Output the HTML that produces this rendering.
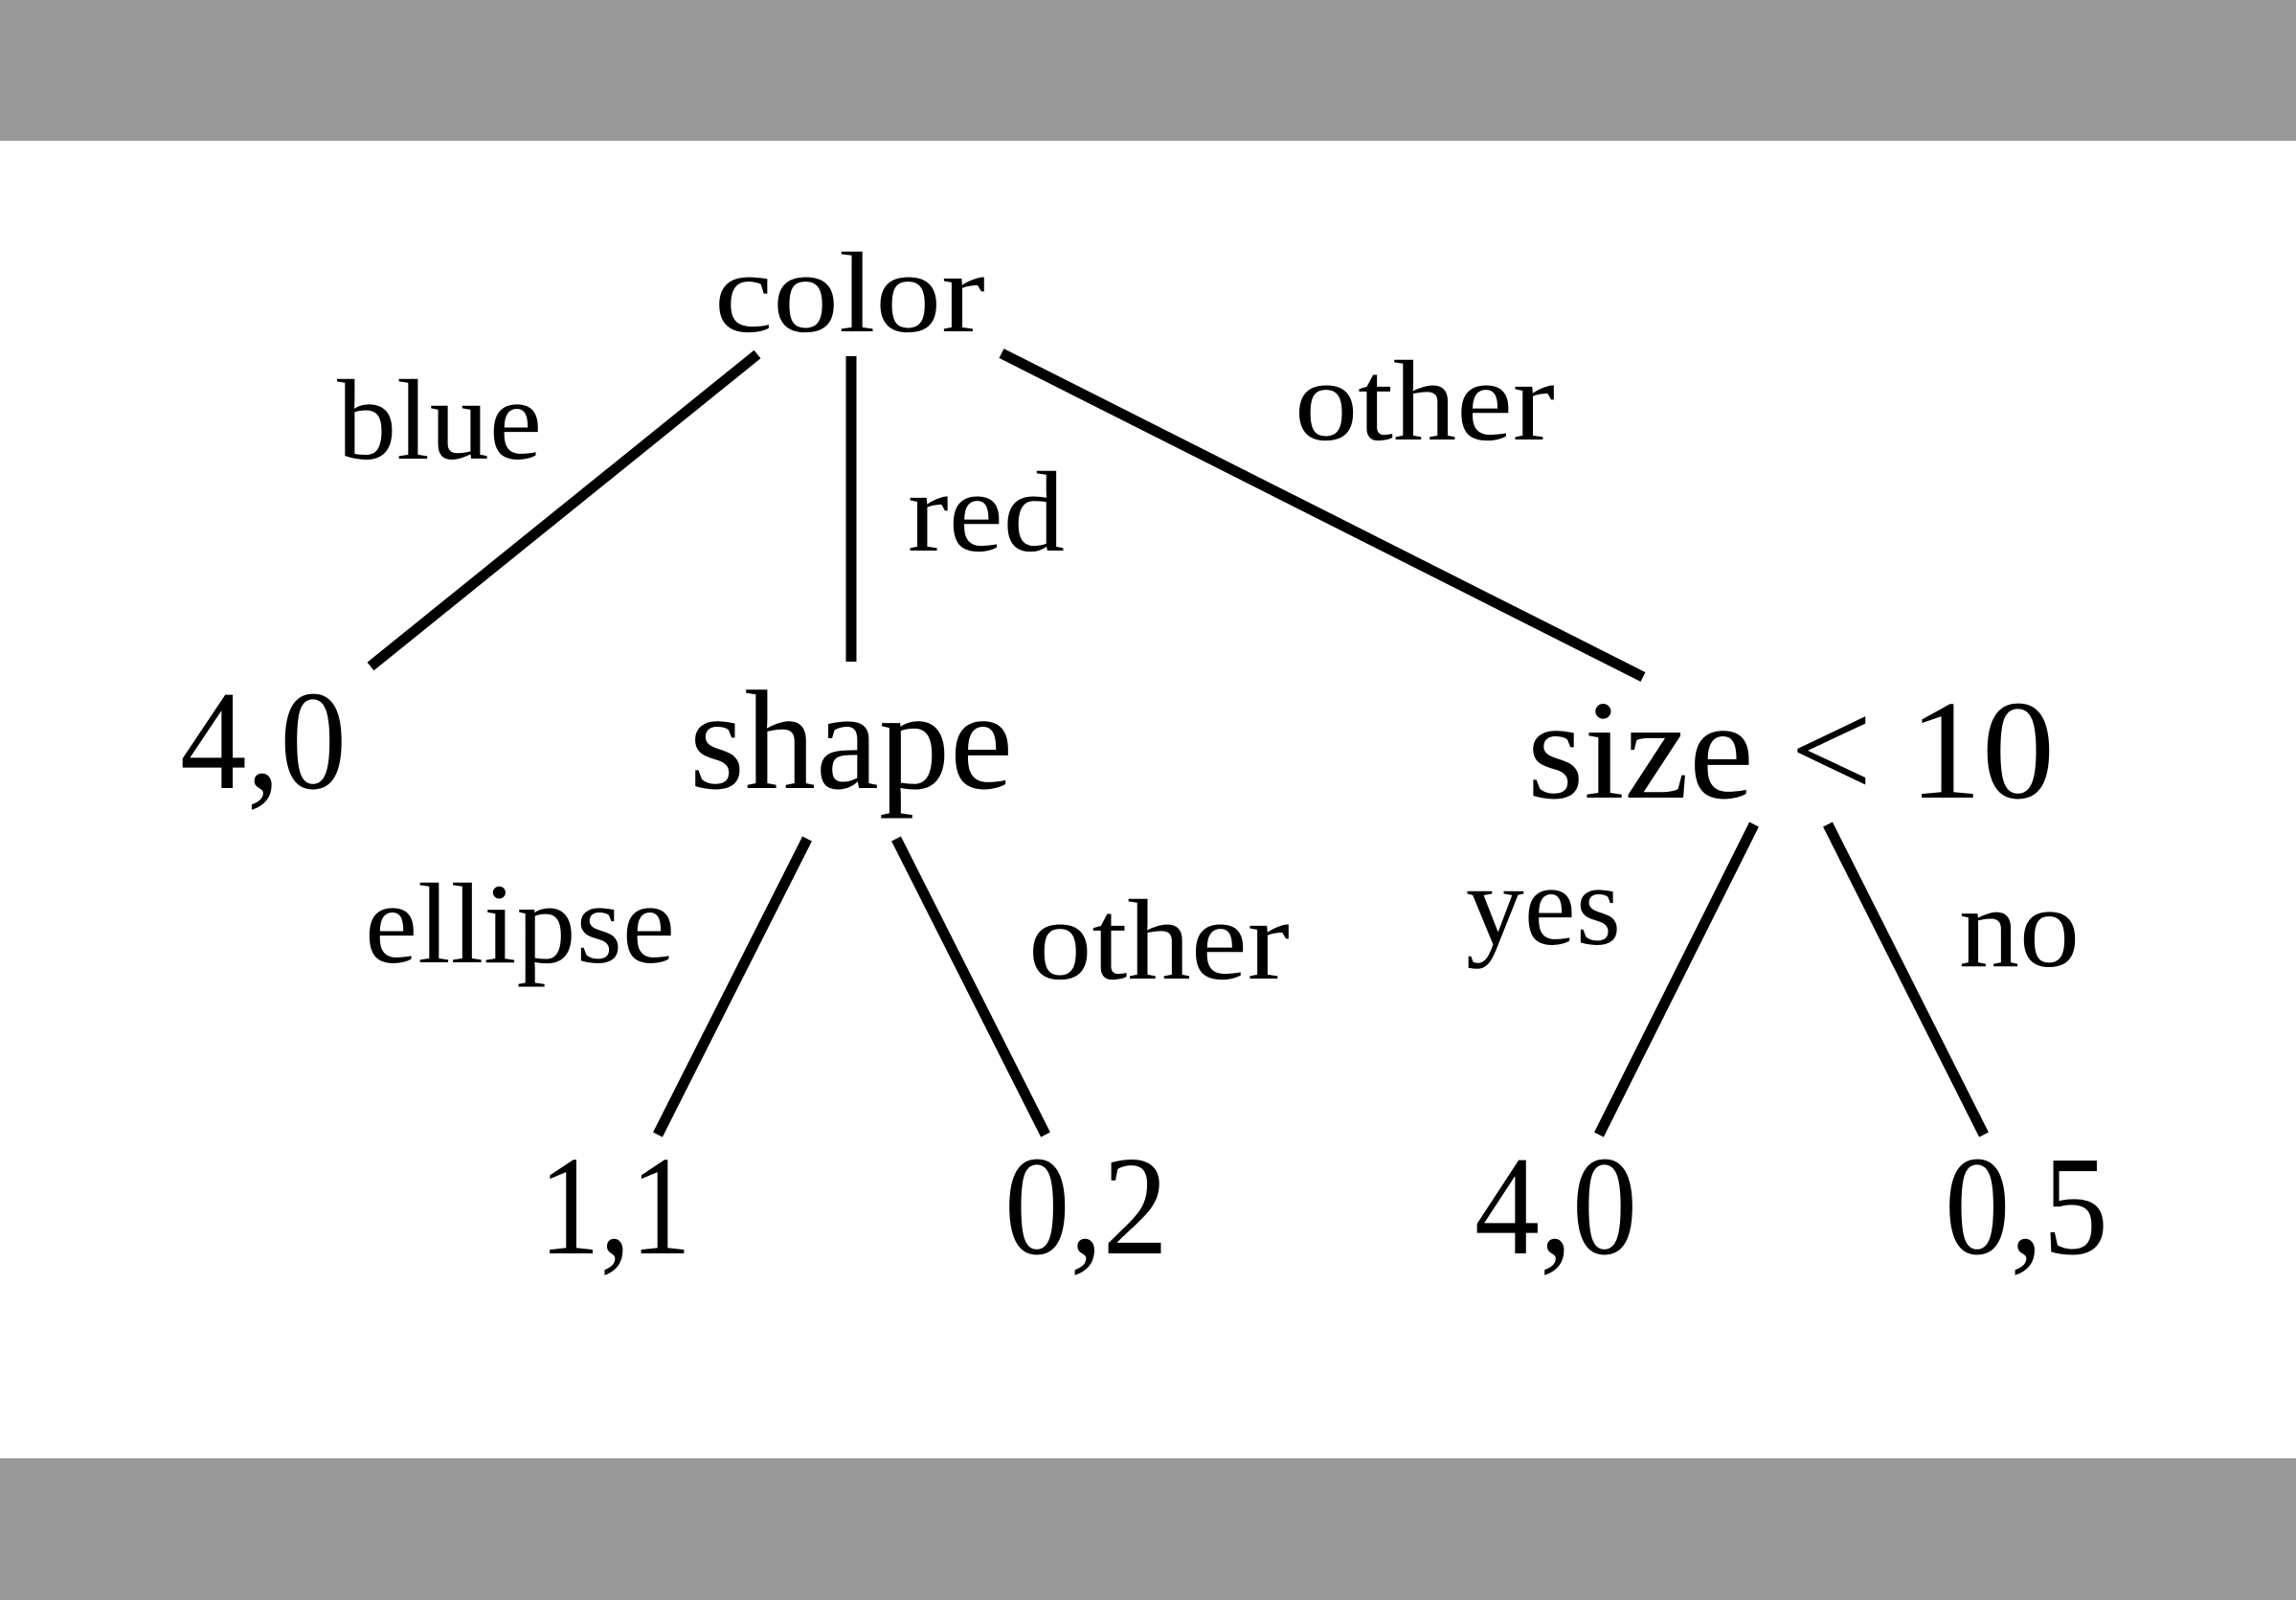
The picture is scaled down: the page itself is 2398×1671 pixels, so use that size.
<!DOCTYPE html>
<html><head><meta charset="utf-8"><style>
html,body{margin:0;padding:0;background:#fff;}
svg{display:block;}
text{font-family:"Liberation Serif",serif;fill:#000;}
</style></head><body>
<svg width="2398" height="1671" viewBox="0 0 2398 1671" xmlns="http://www.w3.org/2000/svg">
<rect x="0" y="0" width="2398" height="147" fill="#999999"/>
<rect x="0" y="1523" width="2398" height="148" fill="#999999"/>
<g stroke="#000" stroke-width="11" stroke-linecap="butt">
<line x1="791" y1="370" x2="387" y2="696"/>
<line x1="889" y1="372" x2="889" y2="691"/>
<line x1="1046" y1="369" x2="1716" y2="707"/>
<line x1="843" y1="876" x2="687" y2="1185"/>
<line x1="936" y1="876" x2="1092" y2="1185"/>
<line x1="1832" y1="861" x2="1670" y2="1185"/>
<line x1="1909" y1="861" x2="2072" y2="1185"/>
</g>
<g font-size="120">
<text x="746" y="346" textLength="283" lengthAdjust="spacingAndGlyphs">color</text>
<text x="352" y="479" textLength="214" lengthAdjust="spacingAndGlyphs">blue</text>
<text x="948" y="575" textLength="164" lengthAdjust="spacingAndGlyphs">red</text>
<text x="1352" y="459" textLength="272" lengthAdjust="spacingAndGlyphs">other</text>
<text x="381" y="1005" textLength="324" lengthAdjust="spacingAndGlyphs">ellipse</text>
<text x="1074" y="1022" textLength="273" lengthAdjust="spacingAndGlyphs">other</text>
<text x="1531" y="986" textLength="162" lengthAdjust="spacingAndGlyphs">yes</text>
<text x="2046" y="1009" textLength="126" lengthAdjust="spacingAndGlyphs">no</text>
</g>
<g font-size="148">
<text x="188" y="823" textLength="174" lengthAdjust="spacingAndGlyphs">4,0</text>
<text x="720" y="823" textLength="338" lengthAdjust="spacingAndGlyphs">shape</text>
<text x="1595" y="833" textLength="551" lengthAdjust="spacingAndGlyphs">size &lt; 10</text>
<text x="563" y="1309" textLength="159" lengthAdjust="spacingAndGlyphs">1,1</text>
<text x="1049" y="1309" textLength="171" lengthAdjust="spacingAndGlyphs">0,2</text>
<text x="1540" y="1309" textLength="170" lengthAdjust="spacingAndGlyphs">4,0</text>
<text x="2031" y="1309" textLength="171" lengthAdjust="spacingAndGlyphs">0,5</text>
</g>
</svg>
</body></html>
